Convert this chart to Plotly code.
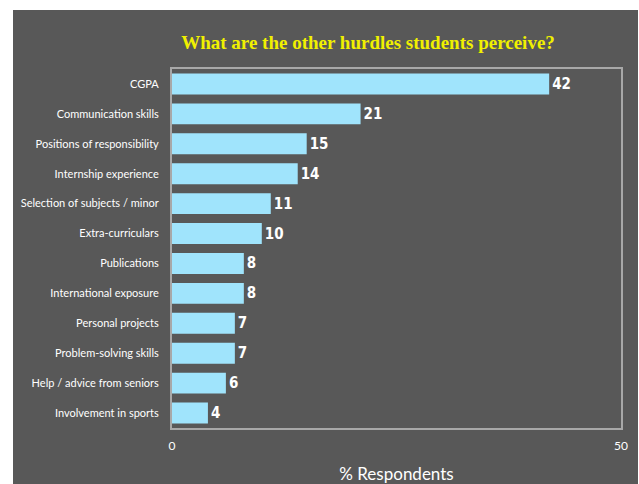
import plotly.graph_objects as go

categories = ["CGPA", "Communication skills", "Positions of responsibility",
              "Internship experience", "Selection of subjects / minor",
              "Extra-curriculars", "Publications", "International exposure",
              "Personal projects", "Problem-solving skills",
              "Help / advice from seniors", "Involvement in sports"]
values = [42, 21, 15, 14, 11, 10, 8, 8, 7, 7, 6, 4]
x_ticks = [0, 50]

W, H = 639, 484
L, R, T, B = 172, 18, 69, 56
pw, ph = W - L - R, H - T - B
PANEL = "#585858"

fig = go.Figure(go.Bar(
    y=categories, x=values, orientation="h",
    marker=dict(color="#a0e4fc", line=dict(width=0)),
    text=[str(v) for v in values], textposition="outside",
    textfont=dict(family="DejaVu Sans Condensed, Liberation Sans Narrow, sans-serif", size=15, color="white"),
    texttemplate="<b>%{text}</b>",
    cliponaxis=False,
))

fig.add_shape(type="rect", xref="paper", yref="paper", layer="below",
              x0=(13 - L) / pw, x1=(638 - L) / pw,
              y0=(H - B - 484) / ph, y1=(H - B - 10) / ph,
              fillcolor=PANEL, line=dict(width=0))

fig.update_layout(
    width=W, height=H,
    margin=dict(l=L, r=R, t=T, b=B, pad=0, autoexpand=False),
    paper_bgcolor="white", plot_bgcolor=PANEL,
    bargap=0.3, showlegend=False,
    title=dict(text="<b>What are the other hurdles students perceive?</b>",
               font=dict(family="Liberation Serif, Times New Roman, serif", size=19, color="#f0f000"),
               x=368 / W, xanchor="center", xref="container",
               y=1 - 42 / H, yanchor="middle", yref="container"),
    xaxis=dict(range=[0, 50], tickvals=x_ticks, showgrid=False, zeroline=False,
               showline=True, mirror=True, linecolor="#a8a8a8", linewidth=2,
               ticks="", ticklabelstandoff=6, automargin=False,
               tickfont=dict(family="Lato, sans-serif", size=12, color="white"),
               title=dict(text="% Respondents", standoff=19,
                          font=dict(family="Lato, sans-serif", size=17, color="white"))),
    yaxis=dict(autorange="reversed", showgrid=False, zeroline=False,
               showline=True, mirror=True, linecolor="#a8a8a8", linewidth=2,
               ticks="", ticklabelstandoff=9, automargin=False,
               tickfont=dict(family="Lato, sans-serif", size=11, color="white")),
)

fig.write_html("out.html")
